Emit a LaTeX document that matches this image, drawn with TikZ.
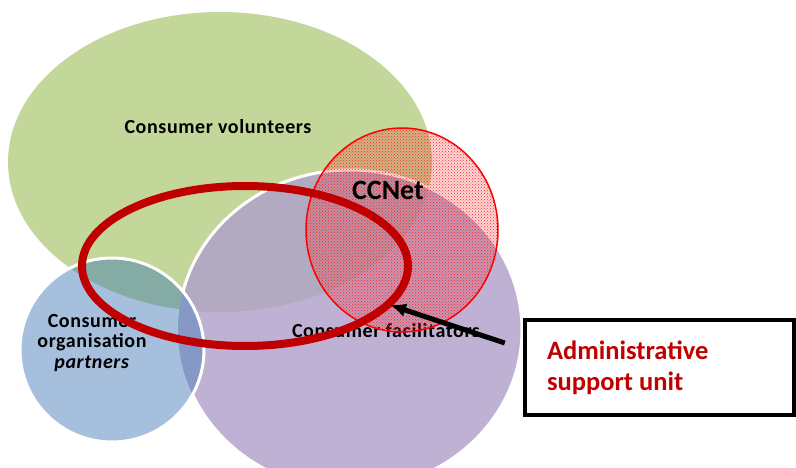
\documentclass[tikz,border=0pt]{standalone}
\usepackage{fontspec}
\setmainfont{Carlito}
\newfontfamily\labelfont[LetterSpace=3]{Carlito}
\usetikzlibrary{arrows.meta,patterns}

\definecolor{volGreen}{RGB}{196,215,155}
\definecolor{facPurple}{RGB}{191,177,211}
\definecolor{orgBlue}{RGB}{166,191,221}
\definecolor{volFacGrey}{RGB}{178,170,192}
\definecolor{volOrgTeal}{RGB}{132,172,165}
\definecolor{orgFacBlue}{RGB}{134,152,198}
\definecolor{asuRed}{RGB}{192,0,0}

\tikzset{
    circlelabel/.style={font=\labelfont\bfseries\fontsize{20}{20.5}\selectfont,
        align=center, text=black},
    whiteedge/.style={draw=white, line width=3pt},
    asubox/.style={draw=black, line width=4.5pt, fill=white,
        minimum width=269pt, minimum height=95pt, inner xsep=20pt,
        text width=225pt, align=flush left, text=asuRed,
        font=\bfseries\fontsize{26.5}{31}\selectfont},
    pointer/.style={-{Latex[length=16pt,width=14pt]}, line width=5pt},
}

\begin{document}
\begin{tikzpicture}[x=1pt,y=-1pt]
    %
    % Independent parameters
    \def\volRx{212pt}                 % volunteers, x radius
    \def\volRy{150pt}                 % volunteers, y radius
    \def\facRx{172pt}                 % facilitators, x radius
    \def\facRy{160pt}                 % facilitators, y radius
    \def\orgR{92pt}                   % organisation partners, radius
    \def\ccRx{96pt}                   % CCNet, x radius
    \def\ccRy{102pt}                  % CCNet, y radius
    %
    \useasboundingbox (0,0) rectangle (796,468);
    %
    % centres
    \coordinate (vol) at (220,162);
    \coordinate (fac) at (350,330);
    \coordinate (org) at (112,350);
    \coordinate (ccnet) at (402,230);
    \coordinate (ring) at (245,266);
    %
    % volunteers and facilitators
    \fill[volGreen] (vol) ellipse [x radius=\volRx, y radius=\volRy];
    \fill[facPurple] (fac) ellipse [x radius=\facRx, y radius=\facRy];
    \begin{scope}
        \clip (vol) ellipse [x radius=\volRx, y radius=\volRy];
        \fill[volFacGrey] (fac) ellipse [x radius=\facRx, y radius=\facRy];
    \end{scope}
    \draw[whiteedge] (fac) ellipse [x radius=\facRx, y radius=\facRy];
    %
    % organisation partners
    \fill[orgBlue] (org) circle [radius=\orgR];
    \begin{scope}
        \clip (org) circle [radius=\orgR];
        \fill[volOrgTeal] (vol) ellipse [x radius=\volRx, y radius=\volRy];
        \fill[orgFacBlue] (fac) ellipse [x radius=\facRx, y radius=\facRy];
    \end{scope}
    \draw[whiteedge] (org) circle [radius=\orgR];
    %
    % write labels
    \node[circlelabel] (volLabel) at (218,127) {Consumer volunteers};
    \node[circlelabel] (orgLabel) at (92,343) {Consumer\\organisation\\\textit{partners}};
    \node[circlelabel] (facLabel) at (386,331) {Consumer facilitators};
    %
    % CCNet
    \fill[red, fill opacity=0.16] (ccnet) ellipse [x radius=\ccRx, y radius=\ccRy];
    \fill[pattern=crosshatch dots, pattern color=red!85]
        (ccnet) ellipse [x radius=\ccRx, y radius=\ccRy];
    \draw[red, line width=1.5pt] (ccnet) ellipse [x radius=\ccRx, y radius=\ccRy];
    \node[font=\bfseries\fontsize{28}{28}\selectfont] (ccnetLabel) at (388,190) {CCNet};
    %
    % administrative ring
    \draw[asuRed, line width=8pt] (ring) ellipse [x radius=163pt, y radius=80pt];
    %
    % administrative support unit
    \node[asubox] (asu) at (659.5,367.5) {Administrative\\support unit};
    \coordinate (arrowTail) at ([xshift=-18pt,yshift=24.5pt]asu.west);
    \coordinate (arrowTip) at (390,305);
    \draw[pointer] (arrowTail) -- (arrowTip);
\end{tikzpicture}
\end{document}
